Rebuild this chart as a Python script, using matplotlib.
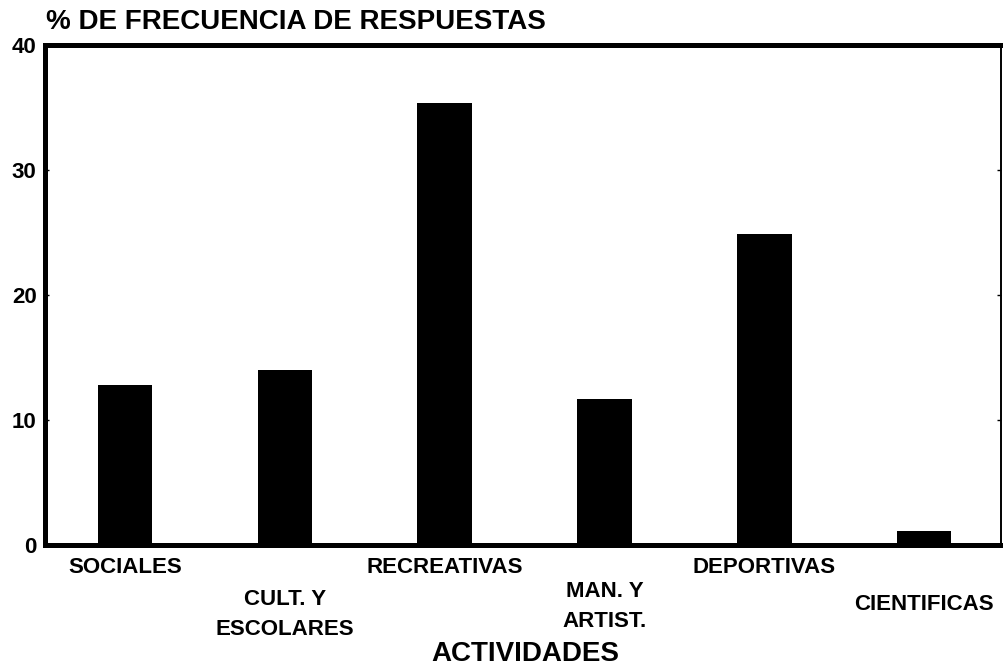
import matplotlib.pyplot as plt
from matplotlib.transforms import blended_transform_factory

# survey results: share of answers per activity type
actividades = ["SOCIALES", "CULT. Y\nESCOLARES", "RECREATIVAS",
               "MAN. Y\nARTIST.", "DEPORTIVAS", "CIENTIFICAS"]
frecuencia = [12.8, 14.0, 35.4, 11.7, 24.9, 1.1]
y_ticks = [0, 10, 20, 30, 40]

# how far below the axis each category label sits (points)
label_drop = [16.5, 50, 16.5, 44, 16.5, 43]

plt.rcParams['font.family'] = ['Liberation Sans', 'DejaVu Sans']
plt.rcParams['font.weight'] = 'bold'

fig = plt.figure(figsize=(10.04, 6.67), dpi=100)
ax = fig.add_axes([0.0448, 0.1829, 0.9522, 0.7496])

x = list(range(len(actividades)))
ax.bar(x, frecuencia, width=0.34, color='black', zorder=2)

ax.set_xlim(-0.5, 5.48)
ax.set_ylim(0, 40)
ax.set_yticks(y_ticks)
ax.set_yticklabels([str(t) for t in y_ticks], fontsize=16, fontweight='bold')
ax.set_xticks([])
ax.tick_params(axis='y', direction='in', length=3, width=1, pad=6,
               right=True, left=True)

for side in ['left', 'top', 'bottom']:
    ax.spines[side].set_linewidth(3.6)
ax.spines['right'].set_linewidth(1.4)

# staggered category labels under the bars
trans = blended_transform_factory(ax.transData, ax.transAxes)
for xi, name, drop in zip(x, actividades, label_drop):
    ax.annotate(name, xy=(xi, 0), xycoords=trans,
                xytext=(0, -drop), textcoords='offset points',
                ha='center', va='center', fontsize=16, fontweight='bold',
                linespacing=1.55)

xlab = ax.set_xlabel("ACTIVIDADES", fontsize=20, fontweight='bold')
xlab.set_va('center')
ax.xaxis.set_label_coords(0.502, -0.218)
fig.text(0.046, 0.967, "% DE FRECUENCIA DE RESPUESTAS", fontsize=20,
         fontweight='bold', ha='left', va='center')

fig.savefig("out.png", dpi=100)
